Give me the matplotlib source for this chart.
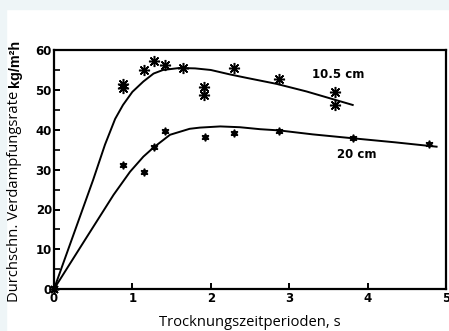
import matplotlib
matplotlib.use("Agg")
import matplotlib.pyplot as plt
from matplotlib.patches import Rectangle
from matplotlib.font_manager import FontProperties

# Measured evaporation rates (kg/m²h) over drying time periods (s)
x_105 = [0.88, 0.88, 1.15, 1.27, 1.42, 1.65, 1.91, 1.91, 2.30, 2.87, 3.59, 3.59]
y_105 = [51.5, 50.5, 55.2, 57.3, 56.3, 55.7, 50.9, 48.9, 55.7, 52.8, 49.5, 46.2]
x_20 = [0.88, 1.15, 1.27, 1.42, 1.92, 2.30, 2.87, 3.82, 4.78]
y_20 = [31.1, 29.5, 35.6, 39.8, 38.3, 39.3, 39.7, 37.9, 36.4]

# Fitted trend curves
cx_105 = [0, 0.3, 0.5, 0.65, 0.78, 0.88, 1.0, 1.14, 1.27, 1.39, 1.6, 1.8, 2.0,
          2.24, 2.46, 2.84, 3.22, 3.81]
cy_105 = [0, 16.5, 27.5, 36.3, 42.8, 46.3, 49.6, 52.2, 54.2, 55.1, 55.6, 55.5,
          55.1, 54.0, 53.1, 51.6, 49.7, 46.3]
cx_20 = [0, 0.4, 0.76, 0.97, 1.14, 1.27, 1.48, 1.73, 1.86, 2.12, 2.37, 2.63,
         2.87, 3.3, 3.82, 4.35, 4.88]
cy_20 = [0, 12.5, 23.7, 29.5, 33.3, 35.6, 38.8, 40.3, 40.6, 40.9, 40.7, 40.2,
         39.9, 38.9, 37.9, 36.9, 35.8]

labels = ["10.5 cm", "20 cm"]
label_pos = [(3.62, 54.0), (3.86, 33.8)]

W, H = 449, 331
fig = plt.figure(figsize=(W / 100, H / 100), dpi=100, facecolor="white")

# light frame strips at top and left
bg = "#eef5f7"
fig.patches.append(Rectangle((0, 1 - 9 / H), 1, 9 / H, transform=fig.transFigure,
                             color=bg, zorder=0))
fig.patches.append(Rectangle((0, 0), 6 / W, 1, transform=fig.transFigure,
                             color=bg, zorder=0))

ax = fig.add_axes([54 / W, 42 / H, 392 / W, 238.5 / H])
ax.set_xlim(0, 5)
ax.set_ylim(0, 60)

tick_family = ["Liberation Sans Narrow", "DejaVu Sans"]
tick_fp = FontProperties(family=tick_family, weight="bold", size=8.5)

ax.plot(cx_105, cy_105, color="black", lw=1.4, zorder=2)
ax.plot(cx_20, cy_20, color="black", lw=1.4, zorder=2)
ax.plot(x_105, y_105, ls="none", marker=(8, 2, 0), ms=8, mew=1.1,
        color="black", zorder=3)
ax.plot(x_20, y_20, ls="none", marker=(6, 1, 0), ms=5.5, color="black", zorder=3)
ax.plot([0], [0], ls="none", marker=(8, 2, 0), ms=7, mew=1.2, color="black",
        clip_on=False, zorder=4)

for lab, (lx, ly) in zip(labels, label_pos):
    ax.text(lx, ly, lab, ha="center", va="center", fontproperties=tick_fp)

for s in ax.spines.values():
    s.set_linewidth(1.6)

ax.set_xticks([0, 1, 2, 3, 4, 5])
ax.set_yticks([0, 10, 20, 30, 40, 50, 60])
ax.set_yticks([5, 15, 25, 35, 45, 55], minor=True)
ax.tick_params(axis="both", which="major", direction="in", length=4, width=1.4, pad=1.5)
ax.tick_params(axis="y", which="minor", direction="in", length=4, width=1.2)
ax.tick_params(axis="x", pad=2.5)
for t in ax.get_xticklabels() + ax.get_yticklabels():
    t.set_fontproperties(tick_fp)

label_font = ["Open Sans", "DejaVu Sans"]
fig.text(250 / W, 1 - 322 / H, "Trocknungszeitperioden, s", ha="center", va="center",
         family=label_font, size=10.6)

# y label: regular part followed by bold unit
t1 = fig.text(15 / W, 1 - 302 / H, "Durchschn. Verdampfungsrate ", rotation=90,
              ha="center", va="bottom", family=label_font, size=10.6)
renderer = fig.canvas.get_renderer()
bb = t1.get_window_extent(renderer)
fig.text(15 / W, bb.y1 / H, "kg/m²h", rotation=90, ha="center", va="bottom",
         family=["Liberation Sans", "DejaVu Sans"], weight="bold", size=10.4)

fig.savefig("out.png", dpi=100, facecolor="white")
